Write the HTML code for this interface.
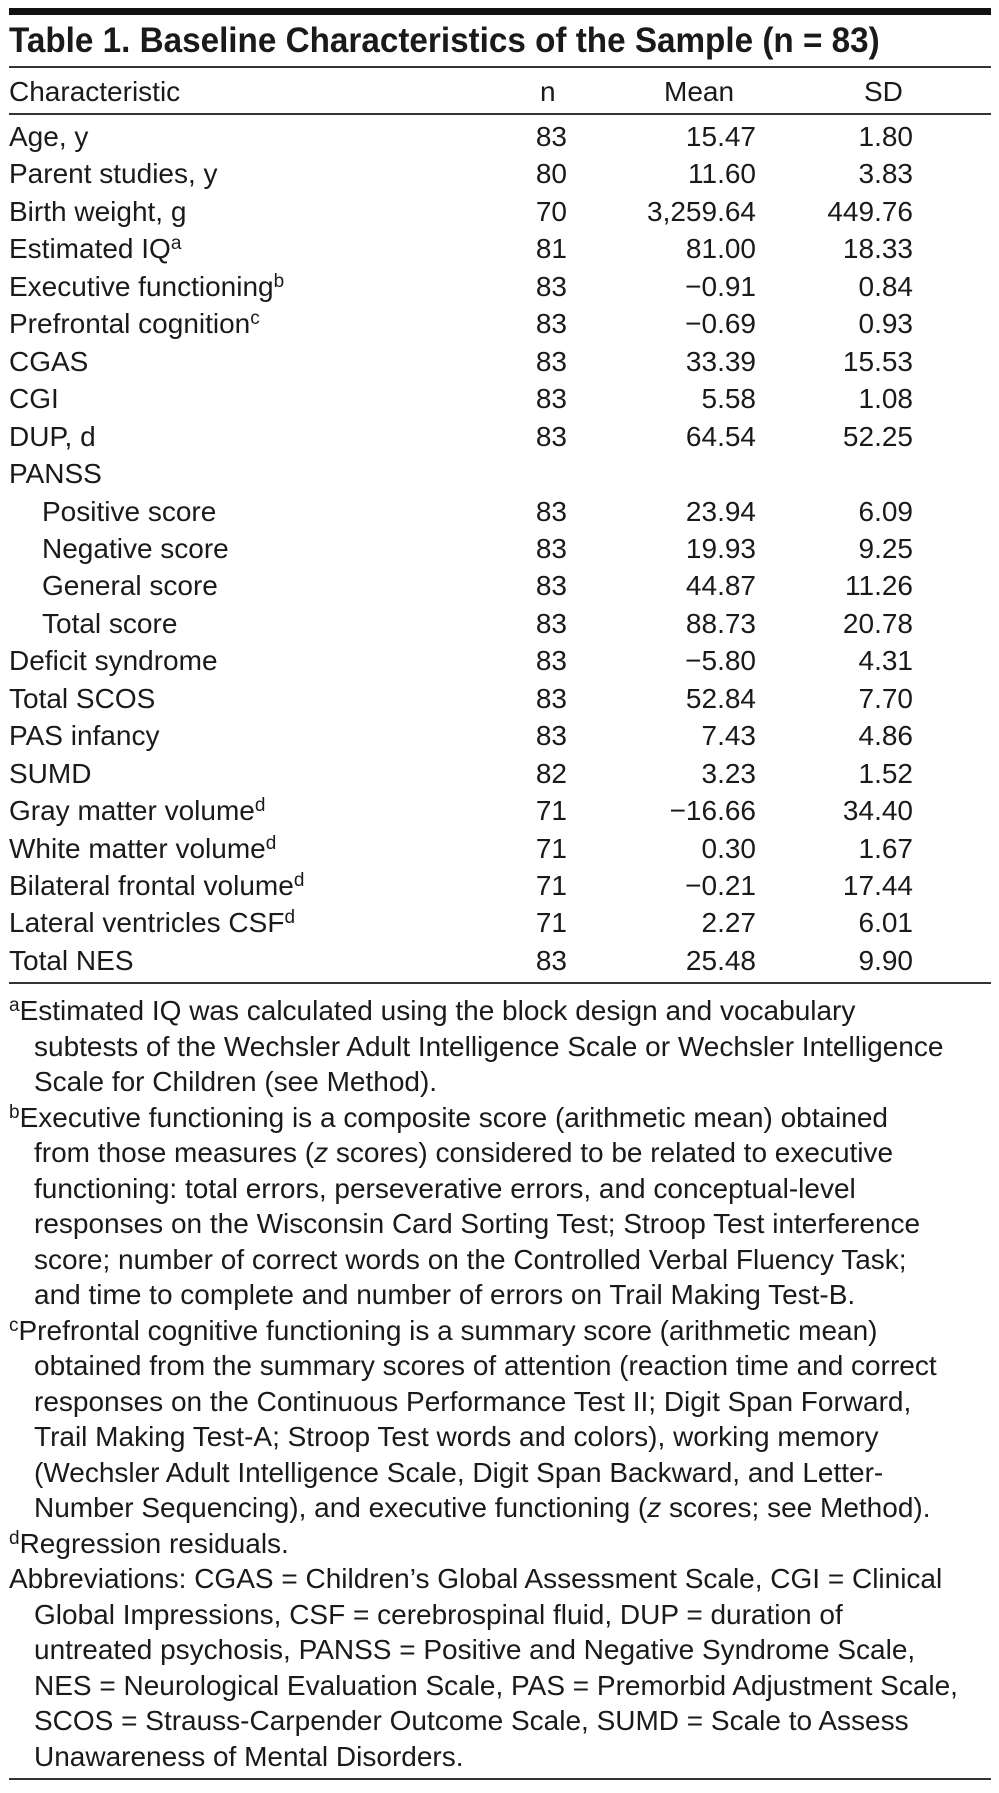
<!DOCTYPE html>
<html><head><meta charset="utf-8">
<style>
body{margin:0;background:#fff;width:999px;height:1793px;position:relative;overflow:hidden;font-family:"Liberation Sans Narrow","Liberation Sans",sans-serif;color:#1a1a1a}
.rule{position:absolute;left:9px;width:982px;background:#333}
.t{position:absolute;white-space:nowrap;font-size:28px;line-height:34px}
.r{text-align:right}
sup{font-size:19px;line-height:0;vertical-align:9px}
.title{position:absolute;left:9px;top:20px;font-size:35px;font-weight:bold;white-space:nowrap;line-height:42px;transform:scaleX(0.95);transform-origin:0 0}
</style></head><body>
<div class="rule" style="top:8px;height:7px;background:#111"></div>
<div class="title">Table 1. Baseline Characteristics of the Sample (n = 83)</div>
<div class="rule" style="top:66px;height:2px"></div>
<div class="t" style="left:9px;top:75px">Characteristic</div>
<div class="t" style="left:540px;top:75px">n</div>
<div class="t" style="left:664px;top:75px">Mean</div>
<div class="t" style="left:864px;top:75px">SD</div>
<div class="rule" style="top:113px;height:2px"></div>
<div id="rows"></div>
<div class="rule" style="top:982px;height:2px"></div>
<div id="notes"></div>
<div class="rule" style="top:1778px;height:2px"></div>
<script>
const labels=["Age, y","Parent studies, y","Birth weight, g","Estimated IQ<sup>a</sup>","Executive functioning<sup>b</sup>","Prefrontal cognition<sup>c</sup>","CGAS","CGI","DUP, d","PANSS","Positive score","Negative score","General score","Total score","Deficit syndrome","Total SCOS","PAS infancy","SUMD","Gray matter volume<sup>d</sup>","White matter volume<sup>d</sup>","Bilateral frontal volume<sup>d</sup>","Lateral ventricles CSF<sup>d</sup>","Total NES"];
const nVals=["83","80","70","81","83","83","83","83","83","","83","83","83","83","83","83","83","82","71","71","71","71","83"];
const meanVals=["15.47","11.60","3,259.64","81.00","−0.91","−0.69","33.39","5.58","64.54","","23.94","19.93","44.87","88.73","−5.80","52.84","7.43","3.23","−16.66","0.30","−0.21","2.27","25.48"];
const sdVals=["1.80","3.83","449.76","18.33","0.84","0.93","15.53","1.08","52.25","","6.09","9.25","11.26","20.78","4.31","7.70","4.86","1.52","34.40","1.67","17.44","6.01","9.90"];
const rows=document.getElementById('rows');
labels.forEach((l,i)=>{
 const top=120+i*37.45;
 const indent=(i>=10&&i<=13)?42:9;
 const a=document.createElement('div');a.className='t';a.style.left=indent+'px';a.style.top=top+'px';a.innerHTML=l;
 
 
 rows.appendChild(a);
 [[nVals,567],[meanVals,756],[sdVals,913]].forEach(([arr,right])=>{
  const c=document.createElement('div');c.className='t r';c.style.right=(999-right)+'px';c.style.top=top+'px';c.textContent=arr[i];
  
  
  rows.appendChild(c);
 });
});
const notes=[
[0,"<sup>a</sup>Estimated IQ was calculated using the block design and vocabulary"],
[1,"subtests of the Wechsler Adult Intelligence Scale or Wechsler Intelligence"],
[1,"Scale for Children (see Method)."],
[0,"<sup>b</sup>Executive functioning is a composite score (arithmetic mean) obtained"],
[1,"from those measures (<i>z</i> scores) considered to be related to executive"],
[1,"functioning: total errors, perseverative errors, and conceptual-level"],
[1,"responses on the Wisconsin Card Sorting Test; Stroop Test interference"],
[1,"score; number of correct words on the Controlled Verbal Fluency Task;"],
[1,"and time to complete and number of errors on Trail Making Test-B."],
[0,"<sup>c</sup>Prefrontal cognitive functioning is a summary score (arithmetic mean)"],
[1,"obtained from the summary scores of attention (reaction time and correct"],
[1,"responses on the Continuous Performance Test II; Digit Span Forward,"],
[1,"Trail Making Test-A; Stroop Test words and colors), working memory"],
[1,"(Wechsler Adult Intelligence Scale, Digit Span Backward, and Letter-"],
[1,"Number Sequencing), and executive functioning (<i>z</i> scores; see Method)."],
[0,"<sup>d</sup>Regression residuals."],
[0,"Abbreviations: CGAS = Children’s Global Assessment Scale, CGI = Clinical"],
[1,"Global Impressions, CSF = cerebrospinal fluid, DUP = duration of"],
[1,"untreated psychosis, PANSS = Positive and Negative Syndrome Scale,"],
[1,"NES = Neurological Evaluation Scale, PAS = Premorbid Adjustment Scale,"],
[1,"SCOS = Strauss-Carpender Outcome Scale, SUMD = Scale to Assess"],
[1,"Unawareness of Mental Disorders."]];
const nd=document.getElementById('notes');
notes.forEach(([ind,h],i)=>{
 const d=document.createElement('div');d.className='t';d.style.left=(ind?34:9)+'px';d.style.top=(994+i*35.5)+'px';d.innerHTML=h;
 
 
 nd.appendChild(d);
});
</script>
</body></html>
